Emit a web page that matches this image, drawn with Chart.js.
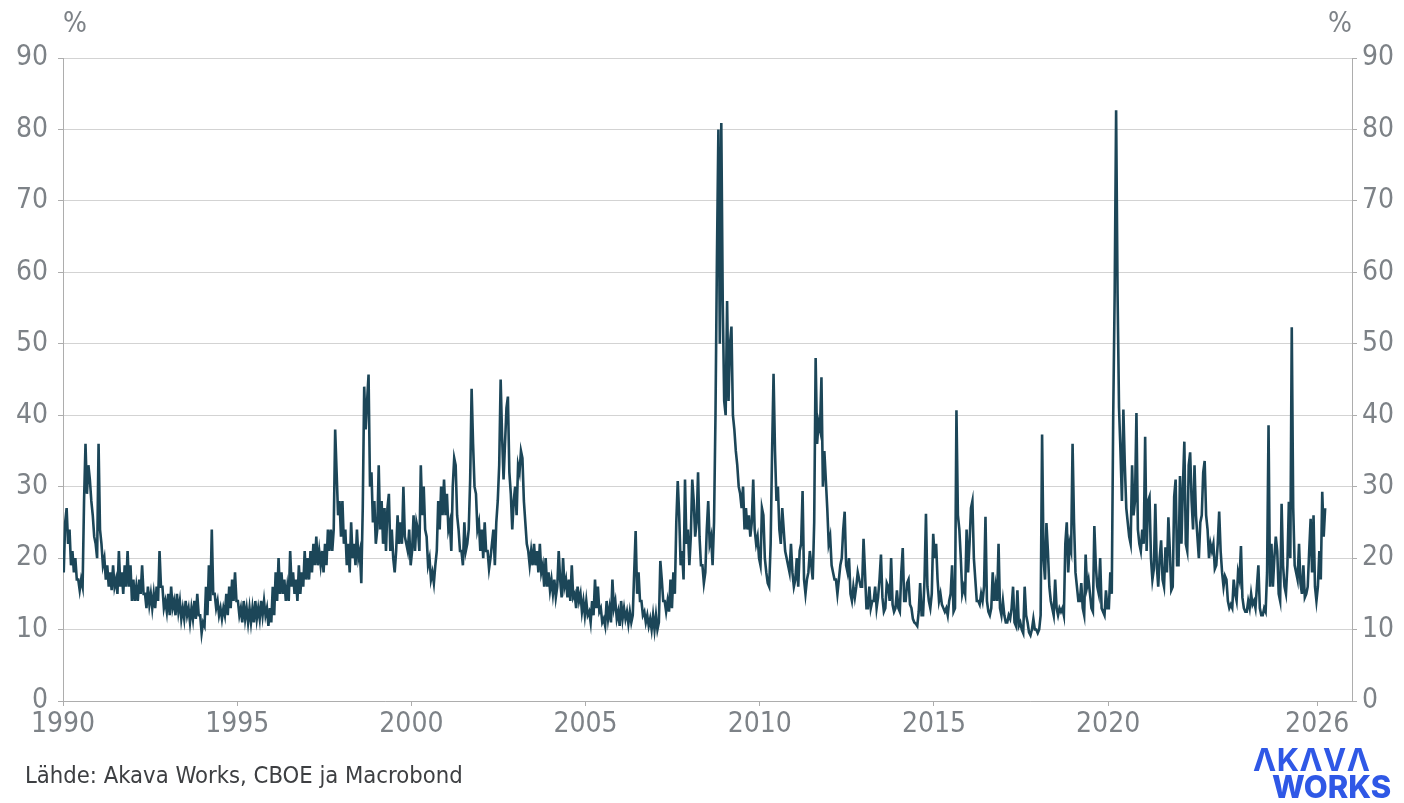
<!DOCTYPE html>
<html>
<head>
<meta charset="utf-8">
<script src="https://cdn.jsdelivr.net/npm/chart.js@4.4.1/dist/chart.umd.min.js"></script>
<style>
html,body{margin:0;padding:0;background:#ffffff;}
#wrap{position:relative;width:1404px;height:803px;overflow:hidden;}
canvas{position:absolute;left:0;top:0;}
.pct{position:absolute;top:9px;font-family:"DejaVu Sans Condensed","DejaVu Sans",sans-serif;font-size:28px;line-height:1;color:#7d8287;}
#src{position:absolute;left:25px;top:764px;font-family:"DejaVu Sans Condensed","DejaVu Sans",sans-serif;font-size:23.6px;line-height:1;color:#3d3f42;white-space:nowrap;}
.logo{position:absolute;font-family:Inter,"DejaVu Sans",sans-serif;font-size:31px;line-height:1;color:#2f58e6;white-space:nowrap;}
</style>
</head>
<body>
<div id="wrap">
<canvas id="c" width="1404" height="803"></canvas>
<div class="pct" style="left:63px;">%</div>
<div class="pct" style="right:52px;">%</div>
<div id="src">Lähde: Akava Works, CBOE ja Macrobond</div>
<div class="logo" style="left:1253px;top:744px;font-weight:700;letter-spacing:0.5px;">ΛKΛVΛ</div>
<div class="logo" style="left:1272px;top:771px;font-weight:800;">WORKS</div>
</div>
<script>
// VIX-index, puolikuukausittaiset arvot (kuun 1. ja 2. puolisko), luettu kuvasta
const v1990 = [18,25,27,22,24,19,21,18,20,17,17,15.5,17,16,28,36,29,33,31,28,26,23,22,20];
const v1991 = [36,24,22,19,20,17,19,16,18,15.5,19,16,17,15,21,16,18,15,19,16,21,16,19,14];
const v1992 = [17,14,16,14,17,15,19,15,15,13,16,13.5,15,13,15,13,16,14,21,16,16,13,14,12.5];
const v1993 = [15,12,16,13,14,12,15,12.5,14,11.5,13,11.5,14,12,13,11,13,11.5,14,11.5,15,12,12,9.5];
const v1994 = [11,10.5,16,12,19,14,24,15,15,13,14,12,13,11.5,13,12,15,12,16,13,17,14,18,14];
const v1995 = [14,12,13,11,14,11.5,13,11,13,11,13,11,14,11.5,13,11.5,14,12,14,12,13,10.5,13,11];
const v1996 = [16,12,18,14,20,15,18,15,17,14,16,14,21,16,18,15,17,14,19,15,18,16,21,17];
const v1997 = [20,17,21,18,22,19,23,19,21,19,21,18,22,19,24,21,24,21,24,38,32,26,28,23];
const v1998 = [28,22,24,19,22,18,25,20,22,19,24,20,21,16.5,27,44,38,42,45.7,30,32,25,28,22];
const v1999 = [24,33,24,28,22,27,21,27,29,21,24,20,18,21,26,22,25,22,30,23,22,21,24,19];
const v2000 = [21,26,21,25,24,21,33,26,30,24,23,19,20,17,18,16.5,19,21,28,24,30,26,31,26];
const v2001 = [29,24,25,21,30,34,33,26,24,21,21,19,25,21,22,24,31,43.7,36,30,29,24,25,21];
const v2002 = [24,20,25,21,21,18.5,20,22,24,19,25,28,33,45,37,31,36,41,42.6,32,29,24,28,30];
const v2003 = [26,33,32,35,34,28,25,22,21,19,21,19,22,19,21,18,22,18,19,16,20,16,18,15.5];
const v2004 = [17,15,17,14.5,16,21,17,14.5,20,16,17,14.5,17,14,19,14.5,15,13,16,14,15,12.5,14,12];
const v2005 = [14,12,12.5,11,14,12,17,13,16,12.5,13,11,11.5,10.5,14,11.5,13,11,17,13,14,11.5,12.5,10.5];
const v2006 = [14,11.5,13,11.5,12.5,10.8,12.5,11,12,18,23.8,15,18,14,14,12,12.5,11,12,10.5,11.5,10,12,10];
const v2007 = [12,10,11,19.6,17,14,14,12.5,14,12.5,17,13,18,15,25,30.8,26,19,21,17,31,22,24,19];
const v2008 = [23,31,28,23,25,32,23,19,19,16.5,18,24,28,22,23,19,25,40,62,80,50,80.9,56,42];
const v2009 = [40,56,42,50,52.4,40,38,35,33,30,29,27,30,24,27,24,26,23,25,31,24,22,23,20];
const v2010 = [19,27,26,20,18,16.5,16,22,35,45.8,35,28,30,24,22,27,24,21,20,19,18,22,18,16];
const v2011 = [17,20,16,21,22,29.4,17,15,17,18,21,19,17,25,48,36,39,38,45.3,30,35,31,27,22];
const v2012 = [23,19,18,17,17,15,17,19,20,24,26.5,19,18,20,15,14,16,14.5,16,18,17,16,16,22.7];
const v2013 = [18,13,13,16,13,14,14,16,13,14.5,17,20.5,14.5,12.5,13,16.5,16,14,20,13.5,12.5,13,15.5,13];
const v2014 = [12.5,18,21.4,14,14,16.5,17,13.5,13,11.5,11,10.8,10.5,12.5,16.5,12,12,17,26.2,16,14,13,15,23.4];
const v2015 = [20,22,17,14,15,13.5,13,12.5,13,12,14,15,19,12.5,13,40.7,26,24,20,15,16,15,24,18];
const v2016 = [22,27,28,20,17,14,14,13.5,15,14,16,25.8,14,12.5,12,13,18,14,16,14,22,13,12,14];
const v2017 = [12,11,11,12,11.5,13,16,11,10.5,15.5,10.5,11,10,9.5,16,12,11,9.6,9.2,10,11.5,10,10,9.5];
const v2018 = [10,12,37.3,20,17,24.9,21,16,14,13,12,17,13,12,13,12.5,13,12,22,25,18,22,21,36];
const v2019 = [25,18,16,14,14,16.5,13,12,20.5,16,17,15,13,12.5,24.5,19,16,15,20,13,12.5,12,15.5,13];
const v2020 = [13,18,15,40,57,82.7,57,41,35,28,40.8,33,27,25,23,22,33,26,28,40.3,24,22,21,24];
const v2021 = [22,37,21,28,28.6,20,17,18.5,27.6,19,16,20,22.5,17,16,21.5,18,25.7,21,15.5,16,28.6,31,19];
const v2022 = [19,31.5,22,30,36.3,22,21,33,34.8,28,24,33,26,23,20,25,26,32,33.6,26,24,20,22,21];
const v2023 = [22,18.5,19,22,26.5,21,18,16,17.5,17,14,13,13.5,13,17,15,14,18,17,21.7,14.5,13,12.5,12.5];
const v2024 = [14,13,15,13.5,14,13,16,19,13,12,12,13,12.5,18,38.6,16,22,16,20,23,21,15,14,27.6];
const v2025 = [19,16,15,19,27.9,20,52.3,27,19,18,17,22,16.5,15,19,14.5,15,16,21,25.5,18,26,16,14];
const v2026 = [16,21,17,29.3,23,27];

const seriesByYear = [
  [1990,v1990],[1991,v1991],[1992,v1992],[1993,v1993],[1994,v1994],[1995,v1995],
  [1996,v1996],[1997,v1997],[1998,v1998],[1999,v1999],[2000,v2000],[2001,v2001],
  [2002,v2002],[2003,v2003],[2004,v2004],[2005,v2005],[2006,v2006],[2007,v2007],
  [2008,v2008],[2009,v2009],[2010,v2010],[2011,v2011],[2012,v2012],[2013,v2013],
  [2014,v2014],[2015,v2015],[2016,v2016],[2017,v2017],[2018,v2018],[2019,v2019],
  [2020,v2020],[2021,v2021],[2022,v2022],[2023,v2023],[2024,v2024],[2025,v2025],[2026,v2026]
];
const xTickYears = [1990,1995,2000,2005,2010,2015,2020,2026];
const yTicks = [0,10,20,30,40,50,60,70,80,90];

const points = [];
seriesByYear.forEach(([yr, arr]) => {
  arr.forEach((v, i) => points.push({x: yr + (i + 0.5) / 24, y: v}));
});

const tickFont = {family: '"DejaVu Sans Condensed","DejaVu Sans",sans-serif', size: 28};
const tickColor = '#7d8287';
const axisColor = '#adadad';

new Chart(document.getElementById('c'), {
  type: 'line',
  data: {datasets: [{data: points, borderColor: '#1c4658', borderWidth: 2.6, borderJoinStyle: 'miter', pointRadius: 0, tension: 0, fill: false, yAxisID: 'y'}]},
  options: {
    responsive: false, animation: false, devicePixelRatio: 1,
    layout: {padding: {top: 58, left: 0, right: 0, bottom: 0}},
    plugins: {legend: {display: false}, tooltip: {enabled: false}},
    scales: {
      x: {
        type: 'linear', min: 1990, max: 2027,
        afterBuildTicks: s => { s.ticks = xTickYears.map(v => ({value: v})); },
        afterFit: s => { s.height = 102; },
        grid: {drawOnChartArea: false, drawTicks: true, tickLength: 5, tickColor: axisColor},
        border: {display: true, color: axisColor, width: 1},
        ticks: {font: tickFont, color: tickColor, padding: 2, maxRotation: 0, autoSkip: false, callback: v => String(v)}
      },
      y: {
        position: 'left', min: 0, max: 90,
        afterBuildTicks: s => { s.ticks = yTicks.map(v => ({value: v})); },
        afterFit: s => { s.width = 63; },
        grid: {color: '#d3d3d3', tickLength: 5, tickColor: axisColor},
        border: {display: true, color: axisColor, width: 1},
        ticks: {font: tickFont, color: tickColor, padding: 10, callback: v => String(v)}
      },
      y2: {
        position: 'right', min: 0, max: 90,
        afterBuildTicks: s => { s.ticks = yTicks.map(v => ({value: v})); },
        afterFit: s => { s.width = 52; },
        grid: {drawOnChartArea: false, tickLength: 5, tickColor: axisColor},
        border: {display: true, color: axisColor, width: 1},
        ticks: {font: tickFont, color: tickColor, padding: 5, callback: v => String(v)}
      }
    }
  }
});
</script>
</body>
</html>
